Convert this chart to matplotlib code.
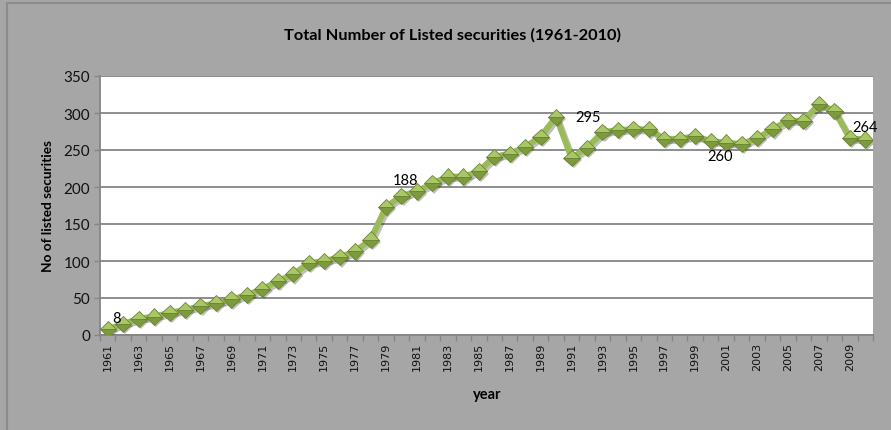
import numpy as np
import matplotlib
matplotlib.use("Agg")
import matplotlib.pyplot as plt
from matplotlib.patches import Rectangle
import matplotlib.patheffects as pe

years = list(range(1961, 2011))
securities = [8, 15, 22, 25, 30, 34, 39, 43, 48, 54,
              62, 73, 82, 97, 100, 105, 113, 129, 173, 188,
              194, 205, 214, 214, 221, 241, 245, 254, 268, 295,
              239, 253, 274, 277, 278, 278, 265, 265, 269, 262,
              260, 258, 266, 278, 290, 289, 312, 303, 266, 264]

# data labels shown in the chart: year -> pixel offset of the text
labelled = {1961: (9, 11), 1980: (4, 16), 1990: (32, 0), 2001: (-6, -13), 2010: (0, 13)}

title = "Total Number of Listed securities (1961-2010)"
y_label = "No of listed securities"
x_label = "year"

BG = "#a6a6a6"
GRID = "#858585"
GREEN = "#9bbb59"

fig = plt.figure(figsize=(8.91, 4.31), dpi=100, facecolor=BG)

# outer chart frame
fig.patches.append(Rectangle((7 / 891, -0.1), 1.2, 1.1 - 4 / 431, transform=fig.transFigure,
                             fill=False, edgecolor="#8c8c8c", linewidth=1.5))

ax = fig.add_axes([100 / 891, 95 / 431, 773 / 891, 259 / 431])
ax.set_facecolor("white")

x = np.arange(len(years))
ax.plot(x, securities, color=GREEN, linewidth=4.3, solid_joinstyle="miter", zorder=3,
        path_effects=[pe.SimpleLineShadow(offset=(1.5, -1.5), alpha=0.25), pe.Normal()])
ax.plot(x, securities, linestyle="none", marker="D", markersize=8.3,
        fillstyle="top", markerfacecolor="#a9c865", markerfacecoloralt="#7d9a3c",
        markeredgecolor="#6b8535", markeredgewidth=0.6, zorder=4,
        path_effects=[pe.withSimplePatchShadow(offset=(1.5, -1.5), alpha=0.3)])

for yr, (dx, dy) in labelled.items():
    i = years.index(yr)
    ax.annotate(str(securities[i]), (x[i], securities[i]), xytext=(dx, dy),
                textcoords="offset pixels", ha="center", va="center",
                fontsize=10.5, family="Lato", color="black", zorder=5)

ax.set_xlim(-0.5, len(years) - 0.5)
ax.set_ylim(0, 350)
ax.set_yticks(range(0, 351, 50))
ax.yaxis.grid(True, color=GRID, linewidth=1.3)
ax.set_axisbelow(True)

ax.set_xticks(x[::2])
ax.set_xticklabels([str(y) for y in years[::2]])
ax.set_xticks(np.arange(-0.5, len(years), 1), minor=True)
ax.tick_params(axis="x", which="major", length=0, pad=5)
ax.tick_params(axis="x", which="minor", length=4, color=GRID, width=1)
ax.tick_params(axis="y", length=4, color=GRID, width=1, pad=3)
for lbl in ax.get_xticklabels():
    lbl.set_fontfamily("DejaVu Sans")
    lbl.set_fontsize(8)
    lbl.set_rotation(90)
    lbl.set_color("#111111")
for lbl in ax.get_yticklabels():
    lbl.set_fontfamily("Lato")
    lbl.set_fontsize(11)
    lbl.set_color("#111111")

for side in ["top", "right"]:
    ax.spines[side].set_visible(False)
for side in ["left", "bottom"]:
    ax.spines[side].set_color(GRID)
    ax.spines[side].set_linewidth(1.3)

fig.text(452 / 891, 1 - 35 / 431, title, ha="center", va="center",
         fontsize=11.8, fontweight="bold", family="Lato")
fig.text(48 / 891, 1 - 206 / 431, y_label, ha="center", va="center", rotation=90,
         fontsize=9.8, fontweight="bold", family="Lato")
fig.text(487 / 891, 1 - 395 / 431, x_label, ha="center", va="center",
         fontsize=10.5, fontweight="bold", family="Lato")

fig.savefig("out.png", dpi=100, facecolor=BG)
